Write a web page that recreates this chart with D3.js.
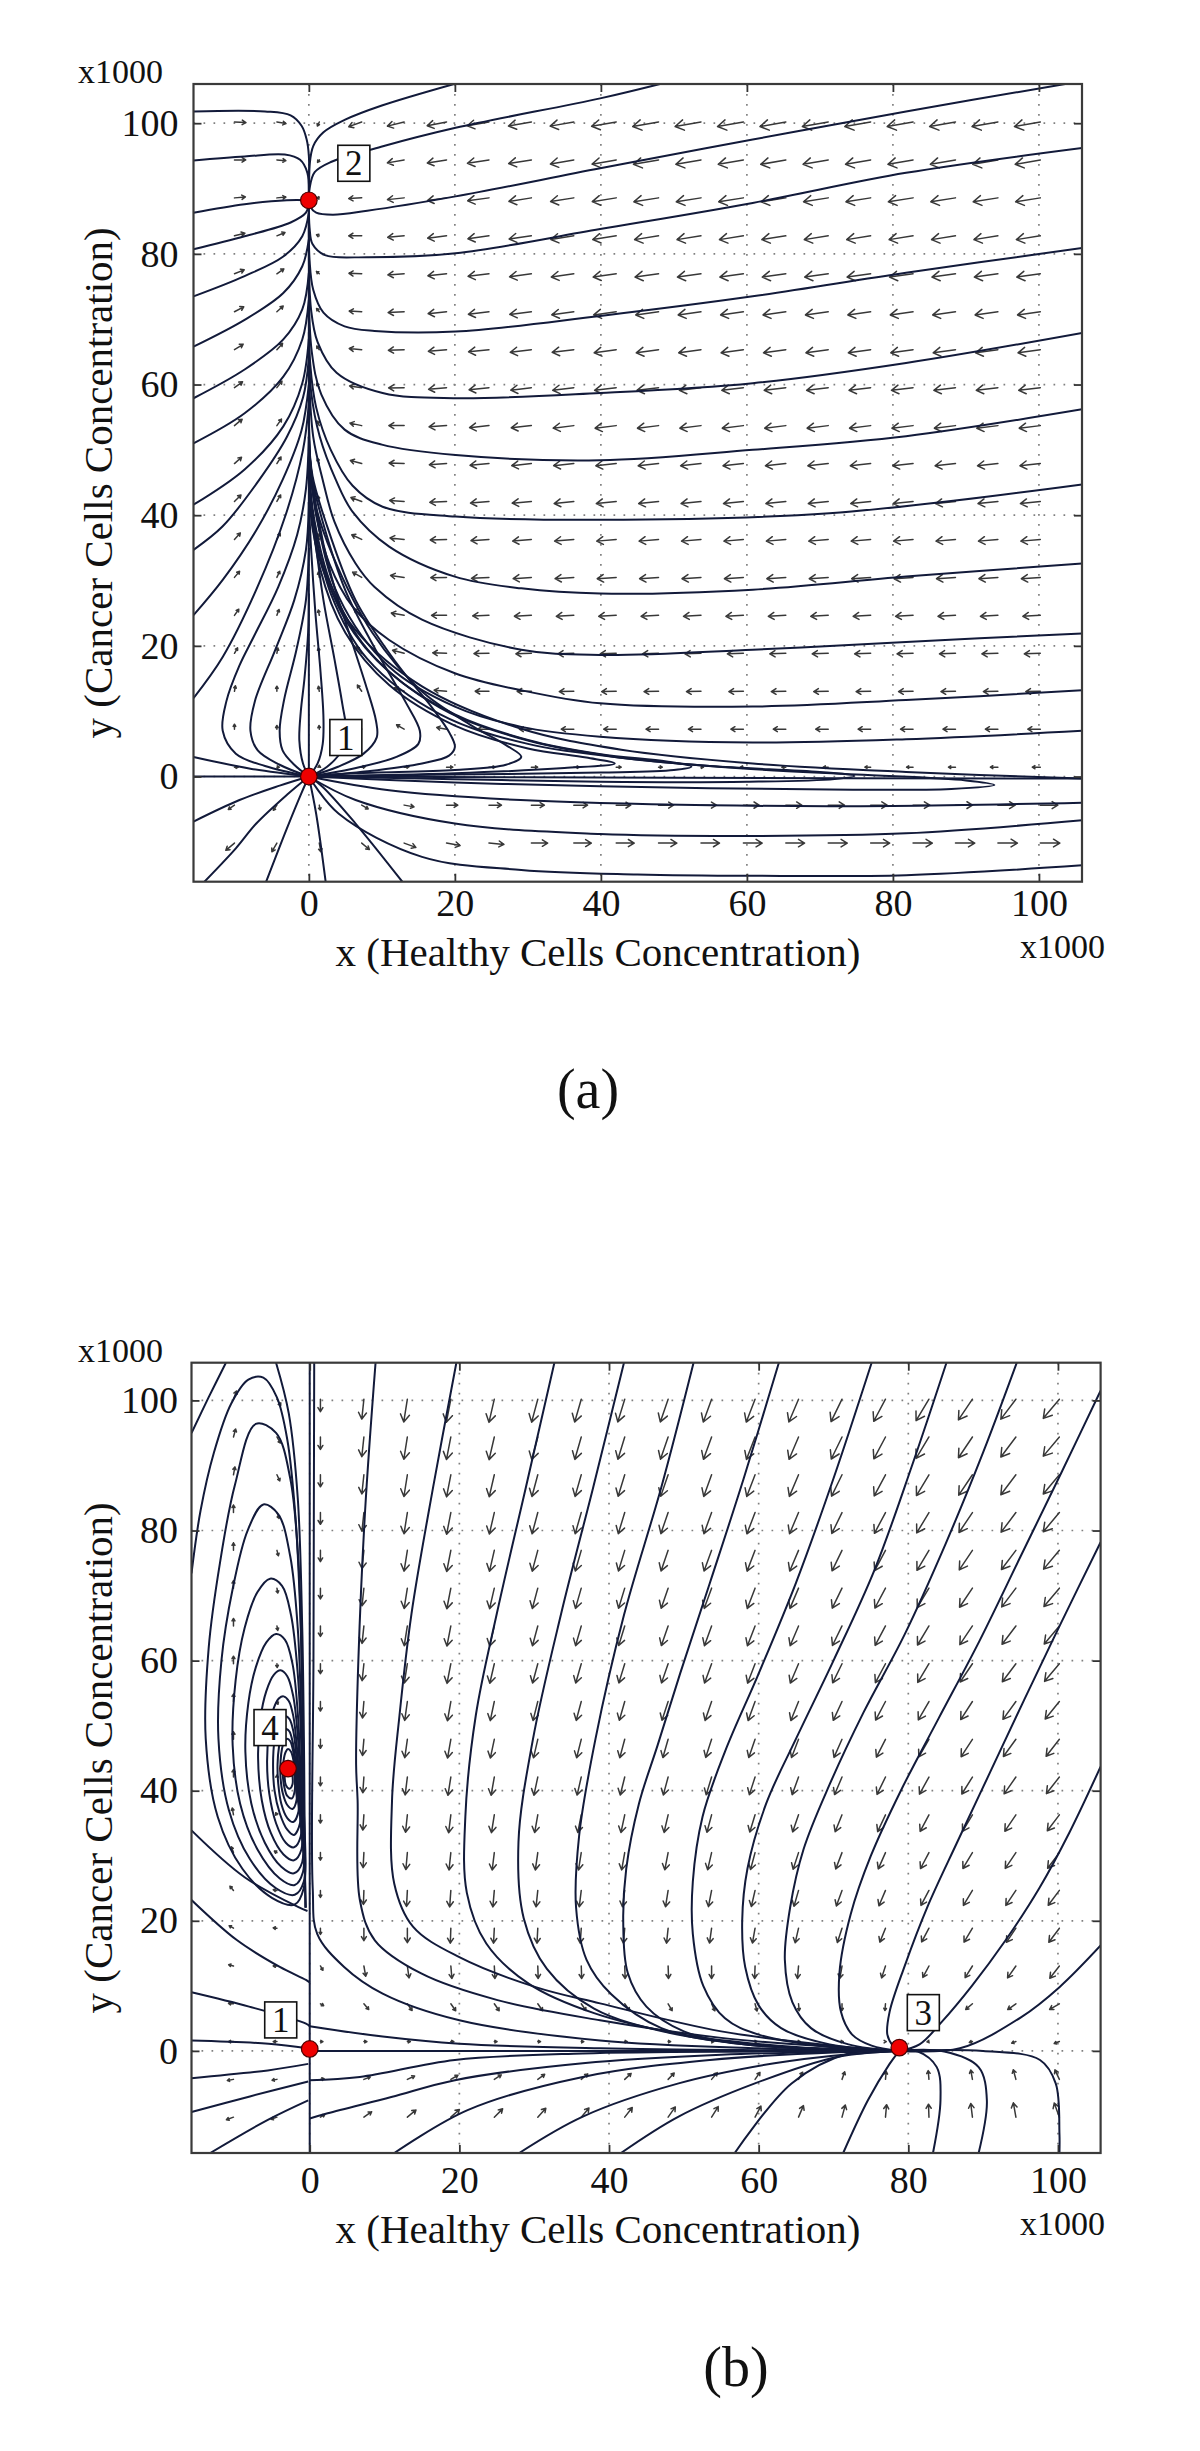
<!DOCTYPE html>
<html><head><meta charset="utf-8">
<script src="https://cdn.jsdelivr.net/npm/d3@7"></script>
<style>body{margin:0;background:#fff}svg{display:block}</style>
</head><body>
<svg id="fig" width="1200" height="2451"></svg>
<script>
// ---------------- DATA ----------------
const tickVals = [0, 20, 40, 60, 80, 100];
const gridPos = [-10.19,-4.38,1.43,7.24,13.05,18.86,24.67,30.48,36.29,42.10,47.90,53.71,59.52,65.33,71.14,76.95,82.76,88.57,94.38,100.19];

// Panel (a): field arrows (rows bottom->top, cols left->right): direction (deg) and relative length
const fieldA_ang = [
[220,240,280,320,340,350,355,0,0,0,0,0,0,0,0,0,0,0,0,0],
[215,235,280,330,350,0,0,0,0,0,0,0,0,0,0,0,0,0,0,0],
[0,0,90,10,5,0,0,0,0,0,0,0,180,180,180,180,180,180,180,180],
[90,90,95,120,150,170,180,180,180,180,180,180,180,180,180,180,180,180,180,180],
[80,90,100,125,160,175,180,180,181,181,181,181,181,181,181,181,181,181,181,181],
[60,80,100,130,165,178,181,182,182,182,182,182,182,182,182,182,182,182,182,182],
[55,70,100,140,170,180,182,183,183,183,183,183,183,183,183,183,183,183,183,183],
[50,65,100,150,172,181,183,184,184,184,184,184,184,184,184,184,184,184,184,184],
[48,62,100,155,174,182,184,185,185,185,185,185,185,185,185,185,185,185,185,185],
[45,60,105,160,176,183,185,185,186,186,186,186,186,186,186,186,186,186,186,186],
[42,58,110,165,178,184,185,186,186,186,186,186,186,186,186,186,186,186,186,186],
[40,55,115,168,180,184,186,186,187,187,187,187,187,187,187,187,187,187,187,187],
[36,52,120,172,181,185,186,187,187,187,187,187,187,187,187,187,187,187,187,187],
[32,48,125,175,182,185,186,187,187,188,188,188,188,188,188,188,188,188,188,188],
[28,42,130,177,183,186,187,187,188,188,188,188,188,188,188,188,188,188,188,188],
[22,35,140,178,184,186,187,188,188,188,188,188,188,188,188,188,188,188,188,188],
[14,22,160,180,185,187,188,188,189,189,189,189,189,189,189,189,189,189,189,189],
[5,5,180,183,186,188,188,189,189,189,189,189,189,189,189,189,189,189,189,189],
[0,-5,235,192,190,189,189,189,190,190,190,190,190,190,190,190,190,190,190,190],
[-3,-10,245,200,194,191,190,190,190,190,190,190,190,190,190,190,190,190,190,190]
];
const fieldA_len = [
[.45,.4,.35,.4,.5,.55,.6,.65,.7,.72,.73,.74,.75,.75,.76,.76,.77,.77,.78,.78],
[.3,.25,.2,.3,.4,.45,.5,.52,.55,.58,.6,.62,.63,.64,.65,.66,.67,.68,.69,.7],
[.15,.1,.08,.15,.2,.25,.25,.25,.22,.2,.15,.1,.12,.16,.2,.23,.26,.28,.3,.32],
[.2,.15,.15,.25,.35,.4,.45,.48,.5,.5,.5,.5,.5,.5,.5,.5,.5,.5,.5,.5],
[.22,.2,.2,.3,.42,.5,.55,.57,.58,.58,.58,.58,.58,.58,.58,.58,.58,.58,.58,.58],
[.25,.22,.22,.35,.48,.55,.6,.62,.63,.64,.64,.64,.64,.64,.64,.64,.64,.64,.64,.64],
[.3,.25,.22,.4,.52,.6,.65,.68,.7,.7,.7,.7,.7,.7,.7,.7,.7,.7,.7,.7],
[.32,.27,.22,.42,.55,.63,.7,.73,.75,.76,.76,.76,.76,.76,.76,.76,.76,.76,.76,.76],
[.35,.28,.22,.44,.57,.65,.72,.75,.77,.78,.78,.78,.78,.78,.78,.78,.78,.78,.78,.78],
[.37,.3,.22,.46,.58,.67,.74,.77,.79,.8,.8,.8,.8,.8,.8,.8,.8,.8,.8,.8],
[.38,.31,.22,.47,.6,.69,.76,.79,.81,.82,.82,.82,.82,.82,.82,.82,.82,.82,.82,.82],
[.4,.32,.2,.48,.61,.7,.78,.81,.83,.85,.85,.85,.85,.85,.85,.85,.85,.85,.85,.85],
[.4,.33,.2,.49,.62,.72,.8,.83,.85,.87,.87,.87,.87,.87,.87,.87,.87,.87,.87,.87],
[.41,.34,.18,.5,.63,.73,.82,.85,.87,.89,.9,.9,.9,.9,.9,.9,.9,.9,.9,.9],
[.42,.34,.17,.5,.64,.74,.83,.87,.89,.91,.92,.92,.92,.92,.92,.92,.92,.92,.92,.92],
[.42,.34,.15,.51,.65,.75,.84,.88,.91,.93,.95,.95,.95,.95,.95,.95,.95,.95,.95,.95],
[.43,.35,.12,.52,.66,.76,.85,.9,.93,.95,.97,.97,.97,.97,.97,.97,.97,.97,.97,.97],
[.44,.36,.1,.52,.67,.77,.86,.91,.94,.97,1,1,1,1,1,1,1,1,1,1],
[.45,.36,.12,.53,.68,.78,.87,.92,.95,.98,1.02,1.02,1.02,1.02,1.02,1.02,1.02,1.02,1.02,1.02],
[.46,.37,.18,.55,.69,.79,.88,.93,.96,1,1.05,1.05,1.05,1.05,1.05,1.05,1.05,1.05,1.05,1.05]
];

// Panel (a) trajectories [x, y] in thousands
const trajA_right = [
[[19.9,106],[10,102.7],[4.9,100.5],[2,98.6],[0.6,96.5],[0.1,93.5],[0,88.2]],
[[48.1,106],[39.9,103.8],[20.1,99.3],[9.9,96.4],[3.1,94.1],[0.8,92.5],[0.1,90],[0,88.2]],
[[103.6,106],[81.8,101.8],[60.8,97.5],[39.9,93.1],[20.1,88.8],[8,86.6],[3.3,86],[1,86.3],[0.2,87.2],[0,88.2]],
[[105.9,96.2],[81.8,92.4],[60.8,87.8],[39.9,83.8],[20.1,80.1],[8,79.5],[2.2,79.8],[0.5,81.5],[0.1,84],[0,88.2]],
[[105.9,80.9],[81.8,77.1],[60.8,73.5],[39.9,70.5],[20.1,68.1],[9,68.2],[4.9,68.9],[2,71],[0.6,74.5],[0.1,79],[0,86]],
[[105.9,67.9],[81.8,63.3],[60.8,60.2],[39.9,58.7],[20.1,57.9],[10.1,58.7],[3.8,61.8],[1.2,66.5],[0.3,71.5],[0,80]],
[[105.9,56.2],[81.8,52.1],[60.8,50],[39.9,48.4],[20.1,49.2],[10,50.8],[4.9,53.1],[1.7,58.5],[0.4,65],[0,75]],
[[105.9,44.7],[71.3,40.3],[39.9,39.3],[20.1,39.8],[10.1,41.3],[6,44.5],[3,50],[1,56.5],[0.2,63],[0,72]],
[[105.9,32.6],[81.8,30.6],[60.8,28.6],[39.9,28],[29.1,28.8],[20,30.6],[11,35.2],[6,40.5],[3.7,45.4],[1.5,52],[0.3,59],[0,68]],
[[105.9,21.9],[81.8,20.6],[60.8,19.4],[39.9,18.6],[29.1,19.4],[15.5,24],[9,29],[6.4,32.6],[3.5,39],[1.9,45.4],[0.6,52],[0,62]],
[[105.9,13.2],[81.8,11.7],[60.8,10.7],[39.9,11.2],[29.1,13.2],[20,15.8],[11,20.9],[6,26],[2.8,32.6],[1,40],[0.2,48],[0,58]],
[[105.9,7],[81.8,5.7],[60.8,5.2],[39.9,6.1],[29.1,7.6],[20,10.7],[11,16.8],[4.1,27.5],[1,40.3],[0.2,48],[0,55]],
[[105.9,-0.3],[81.8,0.7],[60.8,2],[42.8,4.1],[29.1,7.3],[15.5,13.8],[6.4,22.4],[2.5,30],[0.5,38],[0,48]]
];
const trajA_loops = [
[[0,0],[20,-0.9],[39.9,-1.5],[71.3,-2],[88,-1.9],[93.9,-1.3],[90,-0.6],[75,0.3],[60,1.2],[45,2.6],[30,5],[18,9.5],[8,18],[3,28],[0.8,38],[0,46]],
[[0,0],[20,-0.4],[40,-0.8],[60,-0.8],[72,-0.4],[74.7,0.1],[70,0.7],[55,1.6],[42,3],[30,5.5],[18,10.5],[8,19.5],[3,29.5],[0.8,39],[0,47]],
[[0,0],[20,0.3],[40,0.6],[50,1],[52.4,1.5],[49,2.3],[40,3.4],[30,5.6],[20,9.5],[11,16],[5,24],[1.5,34],[0.2,42],[0,49]],
[[0,0],[20,0.5],[35,1.3],[41.9,2],[38,2.9],[30,4.3],[20,7.8],[11,14],[5,22],[1.5,32],[0,45]],
[[0,0],[6.4,0.5],[20,1],[27,1.8],[29.1,3],[27,4.8],[22.3,7.8],[15.5,13],[8.7,22],[3.2,34],[0.8,42],[0,48]],
[[0,0],[8,0.8],[15.5,2],[19.2,3.2],[20,4.5],[19.3,6.6],[16.9,10.5],[11.9,17.5],[6.4,27],[2.3,39],[0.5,46],[0,52]],
[[0,0],[6,1.2],[12,3],[15,5],[15.2,7],[13.2,11.5],[9.1,19.5],[5,28.5],[1.9,39],[0.4,46],[0,52]],
[[0,0],[4,1.5],[7.5,3.5],[9.3,6],[9.2,8.5],[7.8,14],[5.5,22],[3,31],[1.2,40],[0,50]],
[[0,0],[2.5,1.5],[4.5,4],[5.1,7],[4.6,11],[3.5,18],[2,27],[0.8,37],[0,46]],
[[0,0],[1.2,2],[1.9,5],[2,9],[1.6,16],[0.9,25],[0.3,35],[0,42]],
[[0,0],[-6,1.6],[-10,3.5],[-11.8,7],[-11.3,11.5],[-9.5,17],[-7.5,21.5],[-4.2,29],[-1.6,37],[-0.4,44],[0,52]],
[[0,0],[-4,1.8],[-7,4],[-8,7],[-7.4,11.5],[-4.6,19.4],[-2,27],[-0.4,34.7],[0,42]],
[[0,0],[-2,1.8],[-3.6,4],[-4,7],[-3.4,11.7],[-1.7,19.4],[-0.4,27],[0,35]],
[[0,0],[-0.8,2],[-1.3,5.5],[-1.1,10],[-0.6,15],[-0.1,22],[0,28]]
];
const trajA_left = [
[[-15.8,101.8],[-6,101.8],[-2.5,101.2],[-1,99.6],[-0.3,97.5],[0,95],[0,88.2]],
[[-15.8,94.3],[-8.8,94.9],[-3.3,95.2],[-1.2,94.4],[-0.2,92.4],[0,88.5]],
[[-15.8,86.3],[-8.8,87.6],[-3,88.2],[0,88.2]],
[[-15.8,80.7],[-8.8,82.7],[-2.5,84.8],[-0.4,86.3],[0,88]],
[[-15.8,73.5],[-8.8,76.6],[-3.5,79.6],[-0.9,82.7],[0,86.3]],
[[-15.8,65.8],[-8.8,69.9],[-3.5,74],[-0.9,78.1],[0,82.2]],
[[-15.8,57.9],[-8.8,62.3],[-3.5,66.9],[-0.9,71.5],[0,77.1]],
[[-15.8,51],[-8.8,55.6],[-3.5,61.2],[-0.9,66.9],[0,73]],
[[-15.8,41.6],[-8.8,47],[-3.5,53.6],[-0.9,60.2],[0,67]],
[[-15.8,34.7],[-11.8,38.3],[-6.8,45.4],[-3,52],[-0.8,58],[0,64]],
[[-15.8,24.7],[-11.8,30.1],[-7.2,37.7],[-3.6,45.4],[-1,53],[0,60]],
[[-15.8,12],[-11.8,18.3],[-7.2,28.6],[-3.1,40.3],[-0.8,50],[0,57]],
[[-15.8,3],[-8,1.2],[0,0]],
[[-15.8,0],[0,0]],
[[0,0],[0,88.2]]
];
const trajA_lower = [
[[-15.8,-6.9],[-9.5,-3.6],[-4,-1.4],[0,0]],
[[-14.3,-16.1],[-10,-11],[-7.2,-7.2],[-3,-2.8],[0,0]],
[[-5.85,-16.1],[-3.1,-8.2],[-1,-2.5],[0,0]],
[[2.3,-16.1],[1,-5.7],[0,0]],
[[12.8,-16.1],[6.4,-7.2],[1.9,-1.6],[0,0]],
[[0,0],[11,-2.1],[29,-3.6],[55,-4.4],[80,-4.5],[105.9,-4]],
[[0,0],[6.4,-3.6],[20,-7.2],[39.9,-8.8],[60.8,-9.1],[81.8,-8.7],[105.9,-6.7]],
[[0,0],[4.1,-5.7],[15.5,-12.3],[29.1,-14.3],[45,-15],[60.8,-15.2],[81.8,-15.1],[105.9,-13.6]],
[[0,0],[50,-0.2],[105.9,-0.3]]
];
const equilibriaA = [{label:"1", x:0, y:0}, {label:"2", x:0, y:88.2}];

// Panel (b): field arrows
const fieldB_ang = [
[200,200,30,35,40,42,45,48,50,52,55,58,62,67,75,85,92,97,100,110],
[190,190,10,20,25,30,33,36,40,43,46,50,55,60,70,85,95,100,105,115],
[180,180,0,0,0,0,0,0,0,0,0,0,0,0,0,0,190,195,200,200],
[175,180,-30,-50,-55,-55,-55,-55,-55,-55,-60,-65,-75,-85,-90,-95,-135,-140,-145,-150],
[165,180,-60,-80,-82,-85,-87,-88,-88,-88,-88,-90,-92,-95,-100,-108,-118,-122,-125,-128],
[150,175,-90,-90,-90,-92,-93,-93,-94,-95,-96,-98,-100,-103,-108,-112,-118,-121,-124,-127],
[130,170,-90,-92,-93,-94,-95,-96,-97,-98,-99,-101,-103,-106,-110,-113,-118,-121,-124,-127],
[110,150,-90,-93,-95,-96,-97,-98,-99,-100,-101,-103,-105,-108,-111,-114,-118,-121,-124,-127],
[100,120,-90,-94,-96,-97,-99,-100,-101,-102,-103,-105,-107,-109,-112,-115,-118,-121,-124,-127],
[90,90,-90,-94,-97,-99,-100,-102,-103,-104,-105,-107,-108,-110,-113,-116,-119,-122,-125,-128],
[90,90,-90,-95,-98,-100,-102,-103,-104,-105,-106,-108,-109,-111,-114,-117,-120,-123,-126,-128],
[90,-70,-90,-95,-98,-100,-102,-104,-105,-106,-108,-109,-110,-112,-115,-118,-120,-123,-126,-129],
[90,-85,-90,-96,-99,-101,-103,-105,-106,-107,-109,-110,-111,-113,-116,-118,-121,-124,-127,-130],
[90,-80,-90,-96,-99,-101,-103,-105,-106,-107,-109,-110,-111,-113,-116,-118,-121,-124,-127,-130],
[90,-80,-90,-96,-99,-101,-103,-105,-106,-107,-109,-110,-111,-113,-116,-118,-121,-124,-127,-130],
[90,-75,-90,-96,-99,-101,-103,-105,-106,-107,-109,-110,-111,-113,-116,-118,-121,-124,-127,-130],
[90,-70,-90,-96,-99,-101,-103,-105,-106,-107,-109,-110,-111,-113,-116,-118,-121,-124,-127,-130],
[80,-65,-90,-96,-99,-101,-103,-105,-106,-107,-109,-110,-111,-113,-116,-118,-121,-124,-127,-130],
[75,-60,-90,-96,-99,-101,-103,-105,-106,-107,-109,-110,-111,-113,-116,-118,-121,-124,-127,-130],
[70,-60,-90,-96,-99,-101,-103,-105,-106,-107,-109,-110,-111,-113,-116,-118,-121,-124,-127,-130]
];
const fieldB_len = [
[.3,.25,.2,.38,.45,.46,.47,.48,.48,.49,.5,.5,.5,.5,.5,.5,.52,.55,.58,.6],
[.25,.2,.15,.27,.32,.33,.33,.34,.34,.35,.35,.35,.34,.33,.32,.32,.35,.38,.4,.42],
[.2,.15,.1,.12,.12,.12,.11,.11,.1,.1,.1,.09,.08,.07,.05,.03,.08,.13,.18,.22],
[.2,.15,.15,.3,.33,.34,.34,.34,.33,.33,.32,.31,.3,.28,.27,.27,.3,.35,.4,.45],
[.2,.15,.2,.42,.48,.5,.5,.5,.5,.5,.5,.5,.5,.5,.5,.5,.52,.55,.58,.62],
[.2,.15,.25,.5,.58,.6,.6,.6,.6,.6,.6,.6,.6,.6,.6,.6,.62,.65,.68,.7],
[.22,.15,.28,.56,.64,.66,.66,.66,.66,.66,.66,.66,.66,.66,.66,.67,.68,.7,.72,.74],
[.25,.12,.3,.6,.68,.7,.7,.7,.7,.7,.7,.7,.7,.7,.7,.71,.72,.74,.76,.78],
[.28,.1,.33,.61,.7,.72,.72,.72,.72,.72,.72,.72,.72,.72,.73,.74,.75,.77,.79,.8],
[.3,.08,.35,.63,.72,.74,.74,.74,.74,.74,.74,.74,.74,.75,.76,.77,.78,.8,.82,.84],
[.3,.1,.36,.65,.74,.76,.76,.76,.76,.76,.76,.76,.77,.78,.79,.8,.81,.83,.85,.86],
[.3,.12,.38,.66,.76,.78,.78,.78,.78,.78,.79,.8,.81,.82,.83,.84,.85,.86,.88,.9],
[.3,.15,.4,.68,.78,.8,.8,.8,.8,.8,.81,.82,.83,.84,.85,.86,.87,.88,.9,.92],
[.3,.18,.42,.7,.8,.82,.82,.82,.82,.82,.83,.84,.85,.86,.87,.88,.89,.9,.92,.94],
[.3,.2,.43,.71,.82,.84,.84,.84,.84,.84,.85,.86,.87,.88,.89,.9,.91,.92,.94,.96],
[.3,.22,.45,.73,.84,.86,.86,.86,.86,.86,.87,.88,.89,.9,.91,.92,.93,.94,.96,.98],
[.3,.25,.47,.75,.86,.88,.88,.88,.88,.88,.89,.9,.91,.92,.93,.94,.95,.96,.98,1],
[.32,.27,.48,.77,.88,.9,.9,.9,.9,.9,.91,.92,.93,.94,.95,.96,.97,.98,1,1],
[.33,.28,.5,.79,.9,.92,.93,.93,.93,.93,.94,.95,.96,.97,.98,.99,1,1,1,1],
[.35,.3,.5,.8,.92,.94,.95,.95,.95,.95,.96,.97,.98,.99,1,1,1,1,1,1]
];

// Panel (b) trajectories
const trajB_right = [
[[0.6,105.8],[0.5,60],[0.4,25],[1,18],[4.6,12.9],[9.75,8.8],[20,4.7],[38.8,1.6],[60,0.4],[78.8,0]],
[[8.8,105.8],[7.4,83],[6.5,60],[6.2,44],[6.4,38.5],[6.7,23.2],[8.7,17],[14.9,11.9],[25.1,7.8],[38.8,4.7],[55,2],[70,0.6],[78.8,0]],
[[19.6,105.8],[16.5,86.7],[13.6,67.2],[12,51.6],[11,38.5],[11.3,25.7],[13.8,19.1],[20,14.4],[30.2,9.8],[38.8,7.3],[55,3],[70,0.8],[78.8,0]],
[[32.7,105.8],[28.9,86.7],[25,67.2],[22.2,51.6],[20.8,36],[21,24.3],[23.6,16.5],[29.3,10.3],[38,5.8],[50,2.5],[65,0.6],[78.8,0]],
[[42,105.8],[37.9,86.7],[33.6,67.2],[29.8,47.7],[27.9,32.1],[28.6,20.4],[31.7,12.6],[38,6.5],[48,2.8],[62,0.7],[78.8,0]],
[[51.3,105.8],[47,86.7],[42,67],[38.2,48],[36,33],[35.6,22],[37,14],[40.3,8.7],[47,3.5],[58,1],[78.8,0]],
[[62.7,105.8],[58,88],[53.5,72],[49.5,58],[46.5,47],[44,38],[42.3,28],[41.9,20],[42.5,12],[45,6.8],[50,3],[58,1],[69.5,0.3],[78.8,0]],
[[75.1,105.8],[70,88],[65,72],[60,58],[55.5,46],[52.5,36],[51.2,26],[51.2,18],[52.6,10],[55.5,5],[60,2.5],[69.5,0.6],[78.8,0]],
[[85.1,105.8],[80.5,90],[75.5,74],[70,60],[65,48],[61,38],[58.5,28],[57.8,20],[58.2,12.9],[60,7],[63,3.5],[69.5,1],[78.8,0]],
[[94.5,105.8],[90,92],[85,78],[79.5,64],[74,52],[69.5,41],[66,31],[64.2,22],[63.5,14],[64.5,7.5],[67,3.5],[72,1],[78.8,0]],
[[105.7,101.5],[100.5,89],[95,76],[89.5,63],[84,51],[79,40],[75,30],[72.3,21],[70.8,12],[71,6],[72.5,2.5],[75.1,0.8],[78.8,0]],
[[105.7,78.2],[100.5,66],[95.5,54],[91,43],[86.5,32],[82.5,22],[79.5,13],[77.5,6],[77.2,2.5],[78,0.7],[78.8,0]],
[[78.8,0],[81.5,1],[84.5,4.5],[88.5,10],[93,17],[97.5,25],[101.5,33.5],[105.7,43.7]],
[[78.8,0],[86.9,0.4],[95.1,5.2],[100.2,9.8],[105.7,16.2]]
];
const trajB_lower = [
[[78.8,0],[81.3,-0.1],[83.8,-2.5],[84.3,-7.6],[83.3,-15.7]],
[[78.8,0],[84.8,-0.1],[89.4,-2.5],[90.5,-7.6],[89.4,-15.7]],
[[78.8,0],[90,0],[97.6,-1.4],[99.7,-5],[100.2,-12.7],[100.2,-15.7]],
[[71.3,-15.7],[74.6,-7.6],[77.5,-2],[78.8,0]],
[[56.8,-15.7],[64.4,-5],[72,-0.4],[78.8,0]],
[[41.6,-15.7],[49.3,-10.1],[59.5,-5],[70.6,-0.9],[78.8,0]],
[[28,-15.7],[36.5,-10.1],[49.3,-5],[62.1,-1.9],[72,-0.5],[78.8,0]],
[[11.3,-15.7],[21.1,-9.1],[36.5,-4],[53.5,-1.4],[70.6,-0.2],[78.8,0]],
[[0,-10.4],[2.4,-9.6],[10.9,-7.1],[19.4,-4.5],[36.5,-1.9],[55,-0.6],[78.8,0]],
[[0,-4.5],[6.7,-4],[19.4,-1.4],[36.5,-0.4],[60,-0.1],[78.8,0]],
[[0,3.8],[9.75,2.2],[20,1.1],[38.8,0.4],[60,0.1],[78.8,0]],
[[0,0],[40,0],[78.8,0]]
];
const trajB_left = [
[[-15.8,-4.2],[-5.6,-3],[-0.2,-2]],
[[-15.8,-9.4],[-8,-7],[-0.2,-4.7]],
[[-13.3,-15.7],[-5.6,-10.6],[-0.2,-7.6]],
[[-15.8,1.6],[-5.5,1.1],[-0.3,0.4]],
[[-15.8,9],[-8.1,6.8],[-0.5,4.2],[0,3.8]],
[[-15.8,23.2],[-9.7,17],[-4,12.9],[-0.5,10.9],[0,10.5]],
[[-15.8,33.9],[-8.7,26.7],[-1.5,22.1],[-0.3,21.5]],
[[0,-15.7],[0,105.8]],
[[-15.8,95],[-13.5,100.5],[-11.2,105.8]],
[[-4.5,105.8],[-2.8,98],[-1.6,85],[-1,65],[-0.75,45],[-0.65,30],[-0.6,22]],
[[-15.8,73.4],[-14.6,83],[-12.8,92],[-10.5,99.5],[-8.2,103.2],[-6.2,103.5],[-4.4,100.5],[-3,94],[-1.9,82],[-1.2,65],[-0.85,45],[-0.7,30],[-0.5,22]]
];
const trajB_spiral = [
[[-0.8,25],[-2,22.5],[-5,23.5],[-9,28],[-12.3,36],[-13.9,48],[-13.5,62],[-12,75],[-10,87],[-7.2,96.4],[-4.5,95],[-2.6,88],[-1.5,75],[-1,55],[-0.8,38]],
[[-0.8,26],[-2,24],[-4.5,25],[-8,29.5],[-10.8,37],[-12.2,48],[-11.8,60],[-10.3,71],[-8.3,80],[-6.2,84],[-4.2,82.5],[-2.6,76],[-1.6,65],[-1.1,50],[-0.9,36]],
[[-0.9,27.5],[-2,25.5],[-4,26.5],[-7,31],[-9.3,38],[-10.3,47],[-9.9,57],[-8.7,65],[-7,70.5],[-5.3,72.6],[-3.7,71.5],[-2.5,67],[-1.6,58],[-1.1,46],[-0.95,35]],
[[-1,29],[-2.1,27.3],[-3.8,28.3],[-6,32],[-7.8,38],[-8.6,46],[-8.2,53.5],[-7.2,59],[-5.8,62.8],[-4.5,64.1],[-3.3,63.2],[-2.3,59.5],[-1.6,52],[-1.2,42],[-1.05,34]],
[[-1.1,31],[-2.1,29.3],[-3.5,30.2],[-5.2,33.5],[-6.4,38.5],[-6.9,45],[-6.6,51],[-5.8,55.3],[-4.8,57.8],[-3.9,58.5],[-3,57.6],[-2.2,54.5],[-1.6,48.5],[-1.25,40.5],[-1.15,35]],
[[-1.2,33],[-2.1,31.3],[-3.2,32],[-4.5,35],[-5.4,39.5],[-5.7,44.5],[-5.4,49.5],[-4.8,52.7],[-4.1,54.2],[-3.5,54.5],[-2.8,53.8],[-2.2,51.5],[-1.7,46.5],[-1.35,40],[-1.25,36]],
[[-1.3,35],[-2.1,33.2],[-3,34],[-4,36.5],[-4.7,40],[-4.9,44],[-4.7,47.8],[-4.2,50.3],[-3.7,51.3],[-3.25,51.5],[-2.7,51],[-2.2,49.2],[-1.8,45.5],[-1.5,40.5],[-1.4,37.5]],
[[-1.5,36.8],[-2.2,35.2],[-3,35.8],[-3.8,38],[-4.2,41],[-4.3,44],[-4.1,46.8],[-3.7,48.7],[-3.4,49.4],[-3.1,49.5],[-2.7,49.1],[-2.3,47.6],[-1.95,45],[-1.7,41.5],[-1.6,38.8]],
[[-1.75,38.6],[-2.3,37.2],[-3,37.8],[-3.6,39.6],[-3.9,42],[-3.9,44.5],[-3.7,46.5],[-3.4,47.6],[-3,48],[-2.6,47.6],[-2.25,46.3],[-2,44.2],[-1.85,41.5],[-1.8,39.8]],
[[-2,40],[-2.4,38.8],[-3,39.2],[-3.4,40.6],[-3.6,42.6],[-3.5,44.6],[-3.2,46],[-2.9,46.4],[-2.5,46],[-2.2,44.8],[-2.05,42.8]],
[[-2.3,41],[-2.7,40.3],[-3.2,40.9],[-3.35,42.5],[-3.2,44],[-2.9,44.6],[-2.55,44.1],[-2.35,42.8]]
];
const equilibriaB = [{label:"1", x:0, y:0.3}, {label:"3", x:78.8, y:0.5}, {label:"4", x:-2.9, y:43.4}];

// ---------------- DRAWING ----------------
const svg = d3.select("#fig");
const FONT = "'Liberation Serif','Times New Roman',serif";
const lenPx = d3.scaleLinear().domain([0, 1]).range([0, 25]);

function drawPanel(P) {
  const x = d3.scaleLinear().domain(P.xd).range([P.L, P.R]);
  const y = d3.scaleLinear().domain(P.yd).range([P.B, P.T]);
  const root = svg.append("g");
  const cid = "clip-" + P.id;
  root.append("defs").append("clipPath").attr("id", cid).append("rect")
    .attr("x", P.L).attr("y", P.T).attr("width", P.R - P.L).attr("height", P.B - P.T);
  const plot = root.append("g").attr("clip-path", `url(#${cid})`);

  // grid
  plot.selectAll("line.gx").data(tickVals).join("line").attr("class", "gx")
    .attr("x1", d => x(d)).attr("x2", d => x(d)).attr("y1", P.T).attr("y2", P.B);
  plot.selectAll("line.gy").data(tickVals).join("line").attr("class", "gy")
    .attr("y1", d => y(d)).attr("y2", d => y(d)).attr("x1", P.L).attr("x2", P.R);
  plot.selectAll("line.gx, line.gy").attr("stroke", "#808080").attr("stroke-width", 1.7)
    .attr("stroke-dasharray", "1.7,8.3");

  // arrows
  const arrows = [];
  P.ang.forEach((row, i) => row.forEach((a, j) => arrows.push({gx: gridPos[j], gy: gridPos[i], a, l: P.len[i][j]})));
  plot.append("g").selectAll("path").data(arrows).join("path")
    .attr("d", d => {
      const x0 = x(d.gx), y0 = y(d.gy), L = lenPx(d.l), r = d.a * Math.PI / 180;
      const x1 = x0 + L * Math.cos(r), y1 = y0 - L * Math.sin(r);
      const h = Math.max(2.5, L * 0.38), w = 0.55;
      const ax = x1 - h * Math.cos(r - w), ay = y1 + h * Math.sin(r - w);
      const bx = x1 - h * Math.cos(r + w), by = y1 + h * Math.sin(r + w);
      return `M${x0},${y0}L${x1},${y1}M${ax},${ay}L${x1},${y1}L${bx},${by}`;
    })
    .attr("fill", "none").attr("stroke", "#383838").attr("stroke-width", 1.5)
    .attr("stroke-linecap", "round").attr("stroke-linejoin", "round");

  // trajectories
  const line = d3.line().x(d => x(d[0])).y(d => y(d[1])).curve(d3.curveCatmullRom.alpha(0.5));
  const closed = d3.line().x(d => x(d[0])).y(d => y(d[1])).curve(d3.curveCatmullRomClosed.alpha(0.5));
  plot.append("g").selectAll("path").data(P.traj).join("path")
    .attr("d", line).attr("fill", "none").attr("stroke", "#121a3a").attr("stroke-width", 2);
  if (P.loops) {
    plot.append("g").selectAll("path").data(P.loops).join("path")
      .attr("d", closed).attr("fill", "none").attr("stroke", "#121a3a").attr("stroke-width", 2);
  }

  // axes
  const styleAxis = g => {
    g.select(".domain").remove();
    g.selectAll(".tick line").attr("stroke", "#333").attr("stroke-width", 1.8);
    g.selectAll("text").attr("font-family", FONT).attr("font-size", 38).attr("fill", "#111");
  };
  root.append("g").attr("transform", `translate(0,${P.B})`)
    .call(d3.axisBottom(x).tickValues(tickVals).tickSize(-8).tickPadding(P.xPad)).call(styleAxis);
  root.append("g").attr("transform", `translate(${P.L},0)`)
    .call(d3.axisLeft(y).tickValues(tickVals).tickSize(-8).tickPadding(P.yPad)).call(styleAxis);
  root.append("g").attr("transform", `translate(0,${P.T})`)
    .call(d3.axisTop(x).tickValues(tickVals).tickSize(-8).tickFormat("")).call(styleAxis);
  root.append("g").attr("transform", `translate(${P.R},0)`)
    .call(d3.axisRight(y).tickValues(tickVals).tickSize(-8).tickFormat("")).call(styleAxis);
  root.append("rect").attr("x", P.L).attr("y", P.T).attr("width", P.R - P.L).attr("height", P.B - P.T)
    .attr("fill", "none").attr("stroke", "#3a3a3a").attr("stroke-width", 2.2);

  // equilibria and labels
  const eq = root.append("g").selectAll("g").data(P.eq).join("g");
  eq.append("rect")
    .attr("x", d => x(d.x) + P.boxOff[d.label][0] - 16)
    .attr("y", d => y(d.y) + P.boxOff[d.label][1] - 18)
    .attr("width", 32).attr("height", 36)
    .attr("fill", "#fff").attr("stroke", "#111").attr("stroke-width", 1.6);
  eq.append("text")
    .attr("x", d => x(d.x) + P.boxOff[d.label][0])
    .attr("y", d => y(d.y) + P.boxOff[d.label][1] + 12)
    .attr("text-anchor", "middle").attr("font-family", FONT).attr("font-size", 35).attr("fill", "#111")
    .text(d => d.label);
  eq.append("circle").attr("cx", d => x(d.x)).attr("cy", d => y(d.y)).attr("r", 8.3)
    .attr("fill", "#ee0000").attr("stroke", "#4a0000").attr("stroke-width", 1.2);

  // texts
  const t = (txt, tx, ty, size, anchor, rot) => {
    const el = root.append("text").attr("font-family", FONT).attr("font-size", size).attr("fill", "#111")
      .attr("text-anchor", anchor).text(txt);
    if (rot) el.attr("transform", `translate(${tx},${ty}) rotate(-90)`);
    else el.attr("x", tx).attr("y", ty);
  };
  t("x1000", 78, P.T - 1, 34, "start");
  t("x (Healthy Cells Concentration)", 598, P.xLabY, 41, "middle");
  t("x1000", 1020, P.xUnitY, 34, "start");
  t("y (Cancer Cells Concentration)", 112, (P.T + P.B) / 2, 41, "middle", true);
  t(P.caption, P.capX, P.capY, 56, "middle");
}

drawPanel({
  id: "a", L: 193.5, R: 1082, T: 84, B: 881.7,
  xd: [-15.8, 105.9], yd: [-16.1, 106],
  xPad: 7, yPad: 15,
  ang: fieldA_ang, len: fieldA_len,
  traj: [].concat(trajA_right, trajA_loops, trajA_left, trajA_lower),
  eq: equilibriaA, boxOff: {"1": [37, -39], "2": [45, -37]},
  xLabY: 966, xUnitY: 958, caption: "(a)", capX: 588, capY: 1108
});
drawPanel({
  id: "b", L: 191.5, R: 1100.6, T: 1362.7, B: 2153,
  xd: [-15.8, 105.7], yd: [-15.7, 105.8],
  xPad: 13, yPad: 13.5,
  ang: fieldB_ang, len: fieldB_len,
  traj: [].concat(trajB_right, trajB_lower, trajB_left),
  loops: trajB_spiral,
  eq: equilibriaB, boxOff: {"1": [-29, -29], "3": [24, -35], "4": [-18, -41]},
  xLabY: 2243, xUnitY: 2235, caption: "(b)", capX: 736, capY: 2386
});
</script>
</body></html>
